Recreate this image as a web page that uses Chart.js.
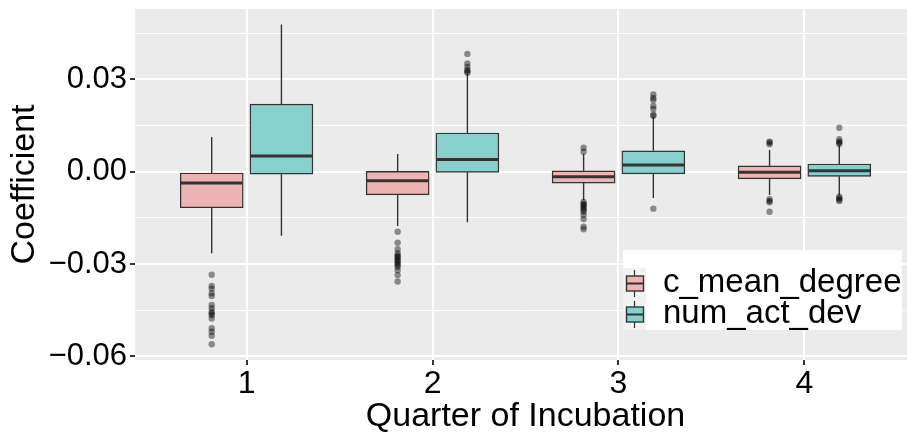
<!DOCTYPE html>
<html>
<head>
<meta charset="utf-8">
<script src="https://cdn.jsdelivr.net/npm/chart.js@4.4.0/dist/chart.umd.min.js"></script>
<style>
  html, body { margin: 0; padding: 0; background: #fff; overflow: hidden; }
  #wrap { position: relative; width: 920px; height: 435px; }
</style>
</head>
<body>
<div id="wrap"><canvas id="chart"></canvas></div>
<script>
// ── Data ─────────────────────────────────────────────────────
const quarters = [1, 2, 3, 4];
const seriesNames = ["c_mean_degree", "num_act_dev"];

// c_mean_degree: whisker ends, quartiles, medians
const cMeanLow  = [-0.0265, -0.0176, -0.0092, -0.0076];
const cMeanQ1   = [-0.0117, -0.0075, -0.0037, -0.0023];
const cMeanMed  = [-0.0037, -0.0029, -0.0016, -0.0002];
const cMeanQ3   = [-0.0004,  0.0001,  0.0003,  0.0019];
const cMeanHigh = [ 0.0113,  0.0058,  0.0058,  0.0071];
const cMeanOutliers = [
  [-0.0335, -0.0371, -0.0380, -0.0395, -0.0404, -0.0433, -0.0444, -0.0455,
   -0.0461, -0.0466, -0.0477, -0.0509, -0.0520, -0.0533, -0.0561],
  [-0.0195, -0.0231, -0.0252, -0.0265, -0.0272, -0.0276, -0.0281, -0.0287,
   -0.0292, -0.0298, -0.0303, -0.0309, -0.0320, -0.0336, -0.0357],
  [0.0065, 0.0078, -0.0098, -0.0104, -0.0108, -0.0113, -0.0119, -0.0124,
   -0.0130, -0.0141, -0.0154, -0.0179, -0.0187],
  [0.0089, 0.0095, 0.0098, -0.0089, -0.0095, -0.0099, -0.0130],
];

// num_act_dev
const actLow  = [-0.0208, -0.0164, -0.0085, -0.0076];
const actQ1   = [-0.0008, -0.0002, -0.0007, -0.0015];
const actMed  = [ 0.0051,  0.0040,  0.0022,  0.0003];
const actQ3   = [ 0.0220,  0.0126,  0.0068,  0.0025];
const actHigh = [ 0.0479,  0.0318,  0.0178,  0.0085];
const actOutliers = [
  [],
  [0.0322, 0.0327, 0.0331, 0.0341, 0.0352, 0.0383],
  [0.0182, 0.0185, 0.0204, 0.0214, 0.0233, 0.0240, 0.0251, -0.0120],
  [0.0090, 0.0095, 0.0098, 0.0106, 0.0143, -0.0081, -0.0086, -0.0090, -0.0095],
];

const yTicks      = [-0.06, -0.03, 0, 0.03];
const yMinorTicks = [-0.045, -0.015, 0.015, 0.045];

// ── Styling ──────────────────────────────────────────────────
const FONT   = "'Liberation Sans', Arial, sans-serif";
const PINK   = "#EDB4B3";
const TEAL   = "#87D0CB";
const INK    = "#333333";
const DODGE  = 0.1875;

const groups = [
  { name: seriesNames[0], shift: -DODGE, fill: PINK, low: cMeanLow, q1: cMeanQ1, med: cMeanMed, q3: cMeanQ3, high: cMeanHigh, out: cMeanOutliers },
  { name: seriesNames[1], shift:  DODGE, fill: TEAL, low: actLow,   q1: actQ1,   med: actMed,   q3: actQ3,   high: actHigh,   out: actOutliers },
];

const boxDatasets = groups.map((g) => ({
  type: "bar",
  label: g.name,
  data: quarters.map((q, i) => ({ x: q + g.shift, y: [g.q1[i], g.q3[i]] })),
  backgroundColor: g.fill,
  borderColor: INK,
  borderWidth: 1.4,
  borderSkipped: false,
  barThickness: 63,
  grouped: false,
}));

const outlierDatasets = groups.map((g) => ({
  type: "scatter",
  label: g.name + " outliers",
  data: quarters.flatMap((q, i) => g.out[i].map((v) => ({ x: q + g.shift, y: v }))),
  pointRadius: 3.2,
  pointBackgroundColor: "rgba(0,0,0,0.42)",
  pointBorderWidth: 0,
}));

// ── Plugins ──────────────────────────────────────────────────
const panelBg = {
  id: "panelBg",
  beforeDraw(chart) {
    const { ctx, chartArea: a } = chart;
    ctx.save();
    ctx.fillStyle = "#EBEBEB";
    ctx.fillRect(a.left, a.top, a.right - a.left, a.bottom - a.top);
    ctx.restore();
  },
};

// whiskers behind the boxes, medians on top
const boxParts = {
  id: "boxParts",
  beforeDatasetsDraw(chart) {
    const { ctx, scales: { x, y } } = chart;
    ctx.save();
    ctx.strokeStyle = INK;
    ctx.lineWidth = 1.4;
    groups.forEach((g) => {
      quarters.forEach((q, i) => {
        const px = x.getPixelForValue(q + g.shift);
        ctx.beginPath();
        ctx.moveTo(px, y.getPixelForValue(g.high[i]));
        ctx.lineTo(px, y.getPixelForValue(g.q3[i]));
        ctx.moveTo(px, y.getPixelForValue(g.q1[i]));
        ctx.lineTo(px, y.getPixelForValue(g.low[i]));
        ctx.stroke();
      });
    });
    ctx.restore();
  },
  afterDatasetsDraw(chart) {
    const { ctx, scales: { y } } = chart;
    ctx.save();
    ctx.strokeStyle = INK;
    ctx.lineWidth = 3;
    groups.forEach((g, gi) => {
      const meta = chart.getDatasetMeta(gi);
      meta.data.forEach((bar, i) => {
        const { x: cx, width } = bar.getProps(["x", "width"], true);
        const py = y.getPixelForValue(g.med[i]);
        ctx.beginPath();
        ctx.moveTo(cx - width / 2 + 0.7, py);
        ctx.lineTo(cx + width / 2 - 0.7, py);
        ctx.stroke();
      });
    });
    ctx.restore();
  },
};

const boxLegend = {
  id: "boxLegend",
  afterDraw(chart) {
    const { ctx } = chart;
    const left = 623, top = 250, rowTop = 268, rowH = 31;
    ctx.save();
    ctx.fillStyle = "#FFFFFF";
    ctx.fillRect(left, top, 279, 80);
    ctx.fillStyle = "#F2F2F2";
    ctx.fillRect(left, rowTop, 23, rowH * 2);
    groups.forEach((g, i) => {
      const ry = rowTop + i * rowH;
      ctx.strokeStyle = INK;
      ctx.lineWidth = 1.2;
      ctx.beginPath();
      ctx.moveTo(left + 11.5, ry + 2);
      ctx.lineTo(left + 11.5, ry + 8);
      ctx.moveTo(left + 11.5, ry + 23);
      ctx.lineTo(left + 11.5, ry + 29);
      ctx.stroke();
      ctx.fillStyle = g.fill;
      ctx.fillRect(left + 3.5, ry + 8, 17, 15);
      ctx.lineWidth = 1.4;
      ctx.strokeRect(left + 3.5, ry + 8, 17, 15);
      ctx.lineWidth = 2;
      ctx.beginPath();
      ctx.moveTo(left + 3.5, ry + 15.5);
      ctx.lineTo(left + 20.5, ry + 15.5);
      ctx.stroke();
      ctx.fillStyle = "#000";
      ctx.font = "33px " + FONT;
      ctx.textBaseline = "middle";
      ctx.textAlign = "left";
      ctx.fillText(g.name, left + 40, ry + 15);
    });
    ctx.restore();
  },
};

// ── Chart ────────────────────────────────────────────────────
const isMajorY = (v) => yTicks.some((t) => Math.abs(t - v) < 1e-9);
const fmtY = (v) => (Math.abs(v) < 1e-9 ? "0.00" : v.toFixed(2).replace("-", "\u2212"));

new Chart(document.getElementById("chart"), {
  data: { datasets: [...boxDatasets, ...outlierDatasets] },
  options: {
    responsive: true,
    maintainAspectRatio: false,
    animation: false,
    layout: { padding: { top: 9, right: 1, left: 0, bottom: 0 } },
    plugins: {
      legend: { display: false },
      tooltip: { enabled: false },
    },
    scales: {
      x: {
        type: "linear",
        min: 0.4,
        max: 4.6,
        offset: false,
        afterBuildTicks: (s) => { s.ticks = quarters.map((v) => ({ value: v })); },
        afterFit: (s) => { s.height = 75; s.paddingLeft = 0; s.paddingRight = 0; },
        border: { display: false },
        grid: { offset: false, color: "#FFFFFF", lineWidth: 2, tickLength: 5, tickColor: INK },
        ticks: {
          color: "#000",
          font: { size: 32, family: FONT },
          padding: 0,
          maxRotation: 0,
          callback: (v) => String(v),
        },
        title: {
          display: true,
          text: "Quarter of Incubation",
          color: "#000",
          font: { size: 34, family: FONT, lineHeight: 1.1 },
          padding: { top: 0, bottom: 0 },
        },
      },
      y: {
        min: -0.0612,
        max: 0.0529,
        afterBuildTicks: (s) => {
          s.ticks = [...yTicks, ...yMinorTicks].sort((a, b) => a - b).map((v) => ({ value: v }));
        },
        afterFit: (s) => { s.width = 135; s.paddingTop = 0; s.paddingBottom = 0; },
        border: { display: false },
        grid: {
          color: "#FFFFFF",
          lineWidth: (c) => (isMajorY(c.tick.value) ? 2 : 1),
          tickLength: 5,
          tickColor: (c) => (isMajorY(c.tick.value) ? INK : "rgba(0,0,0,0)"),
        },
        ticks: {
          color: "#000",
          font: { size: 31, family: FONT },
          padding: 3,
          callback: (v) => (isMajorY(v) ? fmtY(v) : ""),
        },
        title: {
          display: true,
          text: "Coefficient",
          color: "#000",
          font: { size: 34, family: FONT, lineHeight: 1.1 },
          padding: { top: 6, bottom: 0 },
        },
      },
    },
  },
  plugins: [panelBg, boxParts, boxLegend],
});
</script>
</body>
</html>
